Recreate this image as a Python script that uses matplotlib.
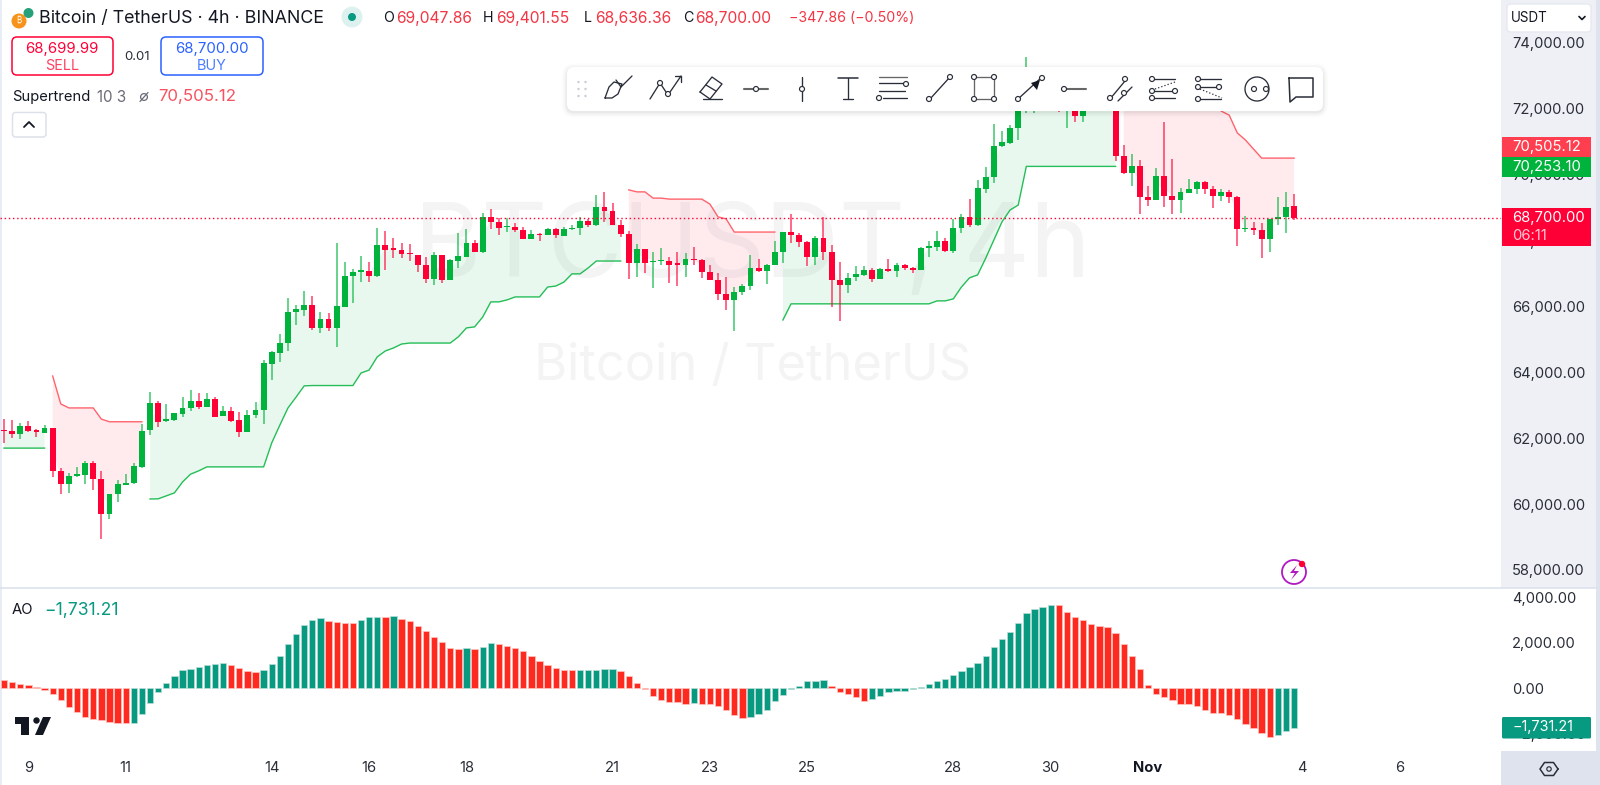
import matplotlib
matplotlib.use("Agg")
import matplotlib.pyplot as plt
import numpy as np
from matplotlib.patches import FancyBboxPatch, Circle, Polygon, Rectangle

plt.rcParams['font.family'] = ['Inter', 'DejaVu Sans']
_ = float('nan')

opens = [62250,62220,62130,62370,62250,62160,62310,61010,60610,60850,60880,61250,60760,59700,60310,60580,60640,61130,62250,63070,
 62520,62550,62740,62920,63130,62950,63190,62680,62830,62550,62190,62710,62860,64250,64590,64890,65830,65890,66050,65350,
 65620,65350,65980,66930,67050,67080,66930,67870,67750,67720,67620,67560,67260,66840,67560,66800,67380,67500,67930,67650,
 68720,68570,68410,68410,68320,68050,68200,68170,68350,68140,68350,68380,68600,68470,69020,68900,68470,68200,67320,67750,
 67350,67380,67380,67290,67260,67440,67410,67050,66800,66380,66200,66440,66620,67170,67080,67260,67650,68260,68170,67960,
 67500,68080,67650,66800,66650,66900,66960,67110,66840,67140,67080,67260,67170,67110,67780,67810,67990,67680,68380,68720,
 68470,69570,69930,70870,70960,71420,71940,72820,73000,72570,72820,72120,72420,71780,72420,72270,72570,72270,70570,70050,
 70270,69320,69230,69960,69350,69230,69450,69570,69780,69570,69350,69480,69320,68350,68380,68320,68050,68660,68720,69048]
highs = [62580,62550,62460,62520,62280,62400,62310,61100,60950,61130,61310,61310,61010,60310,60730,60910,61250,62430,63400,63130,
 63040,62770,63250,63470,63370,63370,63250,62980,62950,62800,62860,63100,64380,64650,65170,66260,66050,66470,66320,65830,
 65800,67930,67350,67140,67530,67350,68380,68290,68080,67930,67900,67560,67500,67650,67560,67440,68230,68350,68020,68840,
 68960,68690,68690,68540,68410,68320,68230,68380,68380,68410,68470,68720,68660,69390,69480,69140,68630,68290,67900,67750,
 67650,67780,67500,67650,67620,67810,67440,67260,67020,66900,66590,66680,67560,67440,67290,67990,68260,68810,68230,67990,
 68140,68720,67870,67350,67020,67230,67230,67170,67170,67440,67320,67290,67200,67810,67990,68290,68080,68660,68810,69260,
 69840,70240,71540,71330,71510,72030,73570,73180,73120,73030,73030,72880,72630,72570,72570,72720,72720,72510,70900,70630,
 70450,69660,70200,71600,70480,69600,69870,69810,69810,69660,69570,69540,69350,68750,68570,68540,68660,69320,69480,69402]
lows = [61860,62010,61980,62190,62040,62160,60820,60310,60340,60820,60610,60430,58940,59550,60060,60580,60610,61100,62100,62340,
 62490,62520,62650,62830,62890,62950,62650,62680,62490,62040,62190,62620,62430,63770,64310,64650,65440,65710,65290,65200,
 65260,64770,65980,66110,66740,66740,66900,67110,67470,67470,67380,67050,66710,66650,66710,66800,67170,67500,67650,67620,
 68350,68170,68260,68260,68050,68050,67990,68170,68080,68140,68320,68170,68410,68440,68570,68470,68110,66840,66900,67020,
 66560,67260,66710,66620,66900,67260,66870,66800,66200,65890,65260,66350,66500,67050,66680,67260,67320,67930,67810,67230,
 67260,67410,65980,65560,66410,66770,66930,66740,66840,67050,66900,67110,67020,67110,67500,67680,67650,67620,68230,68410,
 68440,69450,69750,70840,70930,71060,71870,71870,72420,72270,71900,71420,71600,71600,72030,72120,72120,70420,70020,69660,
 68810,69050,69230,69020,68810,68840,69450,69420,69420,68990,69200,69140,67840,68260,68170,67470,67650,68470,68230,68636]
closes = [62220,62130,62370,62220,62190,62310,61010,60610,60850,60910,61250,60760,59700,60310,60610,60640,61160,62220,63070,62490,
 62580,62770,62920,63130,62950,63190,62650,62830,62520,62190,62710,62860,64280,64620,64890,65830,65920,66050,65350,65620,
 65350,66020,66930,67050,67080,66930,67870,67720,67720,67590,67590,67260,66840,67560,66800,67410,67530,67930,67650,68720,
 68570,68380,68440,68320,68050,68200,68170,68350,68170,68350,68380,68600,68470,69020,68900,68470,68200,67320,67750,67320,
 67380,67410,67260,67260,67440,67410,67050,66800,66380,66200,66440,66620,67170,67080,67260,67650,68260,68170,67960,67500,
 68080,67650,66800,66650,66870,66990,67110,66840,67140,67080,67260,67170,67110,67780,67810,67990,67680,68380,68720,68470,
 69600,69930,70870,70990,71420,71940,72880,73000,72720,72940,72270,72570,71780,72420,72270,72570,72270,70570,70050,70270,
 69320,69230,69960,69350,69230,69480,69570,69780,69570,69350,69480,69320,68350,68380,68320,68050,68660,68720,69020,68700]

st_up = [61700,61700,61700,61700,61700,61700,_,_,_,_,_,_,_,_,_,_,_,_,60155,60160,
 60250,60340,60670,60910,61010,61130,61130,61130,61130,61130,61130,61130,61130,61860,62400,62920,63250,63590,63600,63600,
 63600,63600,63600,63600,63980,64070,64470,64650,64740,64860,64890,64890,64890,64890,64890,64890,65080,65350,65380,65680,
 66140,66140,66200,66290,66290,66290,66290,66590,66620,66740,66990,66990,67170,67380,67380,67380,67380,_,_,_,
 _,_,_,_,_,_,_,_,_,_,_,_,_,_,_,_,65590,66080,66080,66080,
 66080,66080,66080,66080,66080,66080,66080,66080,66080,66080,66080,66080,66080,66080,66080,66170,66170,66230,66590,66870,
 66960,67470,68020,68570,68930,69080,70253,70253,70253,70253,70253,70253,70253,70253,70253,70253,70253,70253,_,_,
 _,_,_,_,_,_,_,_,_,_,_,_,_,_,_,_,_,_,_,_]
st_dn = [_,_,_,_,_,_,63890,63040,62920,62920,62920,62920,62580,62500,62500,62500,62500,62500,_,_,
 _,_,_,_,_,_,_,_,_,_,_,_,_,_,_,_,_,_,_,_,
 _,_,_,_,_,_,_,_,_,_,_,_,_,_,_,_,_,_,_,_,
 _,_,_,_,_,_,_,_,_,_,_,_,_,_,_,_,_,69540,69480,69480,
 69290,69290,69260,69260,69260,69260,69260,69110,68720,68660,68260,68260,68260,68260,68260,68260,_,_,_,_,
 _,_,_,_,_,_,_,_,_,_,_,_,_,_,_,_,_,_,_,_,
 _,_,_,_,_,_,_,_,_,_,_,_,_,_,_,_,_,_,72300,72300,
 72300,72300,72300,72300,72300,72300,72300,72300,72300,72300,71935,71810,71270,71055,70780,70505,70505,70505,70505,70505]

ao = [370,290,190,150,40,-70,-240,-510,-820,-1040,-1250,-1350,-1410,-1480,-1540,-1540,-1510,-1150,-630,-160,
 220,540,790,850,930,1010,1090,1100,1010,900,760,710,810,1060,1440,1930,2400,2810,3030,3090,
 2980,2940,2880,2870,3010,3130,3160,3150,3170,3070,2980,2760,2530,2260,2030,1780,1730,1760,1750,1840,
 1980,1940,1880,1790,1660,1430,1210,1040,900,820,810,815,818,820,850,870,780,560,250,-40,
 -350,-530,-590,-620,-710,-630,-680,-690,-780,-940,-1190,-1290,-1280,-1130,-940,-570,-310,-40,120,310,
 320,370,90,-150,-260,-370,-540,-490,-340,-180,-130,-100,-40,40,180,320,430,600,780,960,
 1130,1430,1810,2190,2500,2880,3320,3500,3600,3680,3660,3370,3160,3000,2840,2750,2680,2430,1940,1410,
 840,160,-250,-370,-530,-690,-690,-780,-970,-1100,-1100,-1190,-1370,-1590,-1760,-1980,-2150,-2040,-1900,-1731.21]

price_ticks = [58000,60000,62000,64000,66000,68000,70000,72000,74000]
ao_ticks = [-2000,0,2000,4000]
date_labels = ['9','11','14','16','18','21','23','25','28','30','Nov','4','6']
date_pos = [3,15,33,45,57,75,87,99,117,129,141,160,172]
last_price = 68700.0
st_last_dn = 70505.12
st_last_up = 70253.10
ao_last = -1731.21

GREEN = '#00B33C'; RED = '#FF0036'; AOG = '#089981'; AOR = '#FF2A1F'
W, H = 1600, 785
fig = plt.figure(figsize=(16, 7.85), dpi=100, facecolor='white')

def rect(l, t, r, b):
    return [l/W, 1-b/H, (r-l)/W, (b-t)/H]

bg = fig.add_axes([0,0,1,1], zorder=0)
bg.set_xlim(0,W); bg.set_ylim(H,0); bg.axis('off')
bg.add_patch(Rectangle((0,0),2,H,color='#E8ECF5',lw=0))
bg.add_patch(Rectangle((1501,0),95,588,color='#EEF0F5',lw=0))
bg.add_patch(Rectangle((1596,0),4,H,color='#DFE3EE',lw=0))
bg.add_patch(Rectangle((1501,751),95,34,color='#DFE3EE',lw=0))
bg.plot([0,1596],[588,588],color='#DDE1EC',lw=1.2)
bg.text(752,250,'BTCUSDT, 4h',fontsize=74,color='#F4F4F5',ha='center',va='center')
bg.text(752,367,'Bitcoin / TetherUS',fontsize=36.4,color='#F4F4F5',ha='center',va='center')

# price pane
ax = fig.add_axes(rect(0,0,1501,588), zorder=1)
ax.patch.set_alpha(0)
XL = (-0.493, 184.5)
ax.set_xlim(*XL); ax.set_ylim(57453,75305)
x = np.arange(len(opens))
o,h,l,c = map(lambda a: np.array(a,float),(opens,highs,lows,closes))
mid = (o+c)/2
up = np.array(st_up,float); dn = np.array(st_dn,float)
ax.fill_between(x,up,mid,where=~np.isnan(up),color=GREEN,alpha=0.085,lw=0)
ax.fill_between(x,dn,mid,where=~np.isnan(dn),color='#FF2040',alpha=0.085,lw=0)
ax.plot(x,up,color=GREEN,lw=1.0,alpha=0.85)
ax.plot(x,dn,color='#FF4A55',lw=1.0,alpha=0.85)
col = np.where(c>=o,GREEN,RED)
ax.vlines(x,l,h,colors=col,lw=1.15,alpha=0.72,zorder=3)
b0 = np.minimum(o,c); b1 = np.maximum(o,c)
hts = np.maximum(b1-b0,45)
ax.bar(x,hts,bottom=b0,width=0.72,color=col,lw=0,zorder=4)
ax.axhline(last_price,color=RED,lw=1,ls=(0,(1,2)),zorder=5)
ax.yaxis.tick_right()
ax.set_yticks(price_ticks)
ax.set_yticklabels([f'{v:,.2f}' for v in price_ticks],fontsize=10.6,color='#2A2E39')
ax.tick_params(axis='y',length=0,pad=8)
ax.set_xticks([])
for s in ax.spines.values(): s.set_visible(False)

# AO pane
a2 = fig.add_axes(rect(0,588,1501,751), zorder=1)
a2.patch.set_alpha(0)
a2.set_xlim(*XL); a2.set_ylim(-2762,4419)
vals = np.array(ao,float)
rising = np.r_[False, vals[1:]>vals[:-1]]
a2.bar(x,vals,width=0.78,color=np.where(rising,AOG,AOR),
       edgecolor=np.where(rising,'#B9DFD8','#FFC4C0'),lw=0.5)
a2.yaxis.tick_right()
a2.set_yticks(ao_ticks)
a2.set_yticklabels([f'{v:,.2f}'.replace('-','\u2212') for v in ao_ticks],fontsize=10.6,color='#2A2E39')
a2.tick_params(axis='y',length=0,pad=8)
a2.set_xticks(date_pos)
a2.set_xticklabels(date_labels,fontsize=10.6,color='#2A2E39')
a2.tick_params(axis='x',length=0,pad=7.5)
for t,s in zip(a2.get_xticklabels(),date_labels):
    if s=='Nov': t.set_fontweight('bold'); t.set_color('#131722')
for s in a2.spines.values(): s.set_visible(False)

# overlay: header, badges and drawing tools
ov = fig.add_axes([0,0,1,1], zorder=5)
ov.set_xlim(0,W); ov.set_ylim(H,0); ov.axis('off'); ov.patch.set_alpha(0)

def T(px,py,s,size,color='#131722',ha='left',**k):
    ov.text(px,py,s,fontsize=size*0.72,color=color,ha=ha,va='center',**k)
def box(l,t,r,b,fc='white',ec='none',lw=1,rad=4,z=2,alpha=1):
    ov.add_patch(FancyBboxPatch((l+rad,t+rad),r-l-2*rad,b-t-2*rad,boxstyle=f'round,pad={rad},rounding_size={rad}',
                                fc=fc,ec=ec,lw=lw,zorder=z,alpha=alpha,mutation_aspect=1))
def L(xs,ys,lw=0.95,color='#2A2E39',z=7,**k):
    ov.plot(xs,ys,color=color,lw=lw,zorder=z,solid_capstyle='round',**k)
def C(cx,cy,r=2.5,fc='white',ec='#2A2E39',lw=0.85,z=8):
    ov.add_patch(Circle((cx,cy),r,fc=fc,ec=ec,lw=lw,zorder=z))

# header
ov.add_patch(Circle((19,21),7.5,fc='#F7931A',ec='none'))
T(19,21,'₿',8,'white',ha='center')
ov.add_patch(Circle((28.5,13),5,fc='#26A17B',ec='none'))
T(39,18.5,'Bitcoin / TetherUS · 4h · BINANCE',17.8,'#131722')
ov.add_patch(Circle((352,17),10.5,fc='#DDF2EE',ec='none'))
ov.add_patch(Circle((352,17),4,fc='#089981',ec='none'))
hdr = [(383,'O','#131722',14.2),(396,'69,047.86','#F23645',15.6),(483,'H','#131722',14.2),(496,'69,401.55','#F23645',15.6),
       (584,'L','#131722',14.2),(595,'68,636.36','#F23645',15.6),(683,'C','#131722',14.2),(695,'68,700.00','#F23645',15.6),
       (789,'\u2212347.86 (\u22120.50%)','#F23645',14.2)]
for px,s,cl,sz in hdr:
    T(px,18.5,s,sz,cl)
box(12,37,113,75,ec=RED,lw=1.1,rad=5)
T(62,49,'68,699.99',15,RED,ha='center')
T(62,66.5,'SELL',14.4,'#FF4060',ha='center')
T(137,56.5,'0.01',13.2,'#2A2E39',ha='center')
box(161,37,263,75,ec='#2962FF',lw=1.1,rad=5)
T(212,49,'68,700.00',15,'#2962FF',ha='center')
T(212,66.5,'BUY',14.4,'#4A7DFF',ha='center')
T(12.5,97,'Supertrend',14.8,'#131722')
T(97,97,'10 3',15.2,'#6A6D78')
ov.add_patch(Circle((144,97),3.4,fc='none',ec='#6A6D78',lw=0.9))
L([140,148],[101.5,92.5],lw=0.9,color='#6A6D78')
T(158,97,'70,505.12',16.8,'#F7525F')
box(12.5,112.5,46,137,ec='#DDE1EA',lw=1.1,rad=3)
L([24,29,34],[127,122,127],lw=1.3,color='#131722')
T(12,610,'AO',14.8,'#131722')
T(44,610,'\u22121,731.21',17.5,'#089981')

# logo
ov.add_patch(Polygon([(15,717),(29,717),(29,735),(21,735),(21,724),(15,724)],fc='#131722',ec='none'))
ov.add_patch(Circle((36.5,720.5),3.2,fc='#131722',ec='none'))
ov.add_patch(Polygon([(43,717),(51,717),(43,735),(35,735)],fc='#131722',ec='none'))

# axis badges
box(1507,4,1591,32,fc='white',ec='#E6E9F2',lw=1,rad=4)
T(1511,18,'USDT',13.4,'#131722')
L([1579,1582,1585],[16.5,19.5,16.5],lw=1.2,color='#131722')
ov.add_patch(Rectangle((1502,137),89,20,fc='#FF3F4F',ec='none',zorder=3))
T(1512,147,f'{st_last_dn:,.2f}',14.8,'white',zorder=4)
ov.add_patch(Rectangle((1502,157),89,20,fc=GREEN,ec='none',zorder=3))
T(1512,167,f'{st_last_up:,.2f}',14.8,'white',zorder=4)
ov.add_patch(Rectangle((1502,208),89,38,fc=RED,ec='none',zorder=3))
T(1512,218,f'{last_price:,.2f}',14.8,'white',zorder=4)
T(1512,235.5,'06:11',14.8,'#FFC9D3',zorder=4)
ov.add_patch(FancyBboxPatch((1503,718),87,19.5,boxstyle='round,pad=1,rounding_size=1.5',fc='#089981',ec='none',zorder=3))
T(1512,727.5,f'{ao_last:,.2f}'.replace('-','\u2212'),14.4,'white',zorder=4)

# settings + bolt
hx = [1549+9*np.cos(a) for a in np.radians([0,60,120,180,240,300,360])]
hy = [769+7.5*np.sin(a) for a in np.radians([0,60,120,180,240,300,360])]
L(hx,hy,lw=1.1)
C(1549,769,2.2,fc='none')
ov.add_patch(Circle((1294,572),12,fc='white',ec='#B018C0',lw=1.3,zorder=6))
ov.add_patch(Polygon([(1297,565),(1290,573),(1295,573),(1291,580),(1299,571),(1294,571)],fc='#B018C0',ec='none',zorder=7))
ov.add_patch(Circle((1302,564),3.2,fc='#FF0036',ec='none',zorder=8))

# toolbar
for k,al in ((5,0.012),(3.5,0.018),(2,0.025),(0.8,0.03)):
    box(567-k,67-k+1.5,1323+k,111+k+1.5,fc='#000000',rad=7+k,z=5,alpha=al)
box(567,67,1323,111,fc='white',rad=7,z=6)
for dx in (0,7):
    for dy in (-7,0,7):
        ov.add_patch(Circle((578.5+dx,89+dy),1.2,fc='#C9CDD6',ec='none',zorder=7))
# brush
L([605,609,614,622,618,612,605],[98,87,82,84,94,98,98]); L([616,621,623,632],[80,87,85,76])
# trend
L([650,660,668,681],[99,83,95,76]); C(660,83); C(668,94); L([675,681,681],[76,76,82])
# eraser
L([700,712,722,710,700],[92,77,84,99,92]); L([706,716],[85,91]); L([703,722],[99,99])
# hline
L([744,768],[89,89],lw=1.5,color='#666'); C(756,89)
# vline
L([802,802],[77,101]); C(802,89)
# T
L([838,858],[78,78],lw=1.1); L([848,848],[78,99]); L([843,853],[99,99])
# parallel
L([879,907],[77,77],color='#666'); L([879,905],[83,83]); L([879,905],[91,91]); L([883,907],[98,98]); C(906,84); C(879,98)
# line
L([930,950],[99,77]); C(929,99); C(950,77)
# rect
L([974,974,994,994,974],[77,99,99,77,77],color='#666')
for a,b in ((974,77),(994,77),(974,99),(994,99)): C(a,b)
# arrow
L([1018,1042],[99,77]); C(1018,99); C(1042,78)
ov.add_patch(Polygon([(1040,80),(1031,83),(1037,90)],fc='#131722',ec='none',zorder=8))
# ray
L([1064,1086],[89,89],lw=1.5,color='#666'); C(1064,89)
# channel
L([1110,1125],[99,81]); L([1118,1132],[101,87]); C(1110,98); C(1125,79); C(1124,93)
# fib
L([1152,1175],[79,79]); L([1152,1175],[91,91]); L([1152,1175],[98,98]); L([1155,1175],[89,82],lw=0.9,ls=':')
C(1152,79); C(1152,91); C(1152,98); C(1175,91)
# pitch
L([1198,1221],[79,79]); L([1198,1221],[87,87]); L([1198,1221],[99,99]); L([1200,1222],[89,98],lw=0.9,ls=':')
C(1198,79); C(1198,87); C(1198,99); C(1219,87)
# circle
ov.add_patch(Circle((1257,89),12,fc='none',ec='#2A2E39',lw=0.95,zorder=7)); C(1254,89); C(1266,89)
# bubble
L([1289,1313,1313,1296,1290,1289],[78,78,97,97,102,78],lw=1.1)

fig.savefig('out.png',dpi=100)
